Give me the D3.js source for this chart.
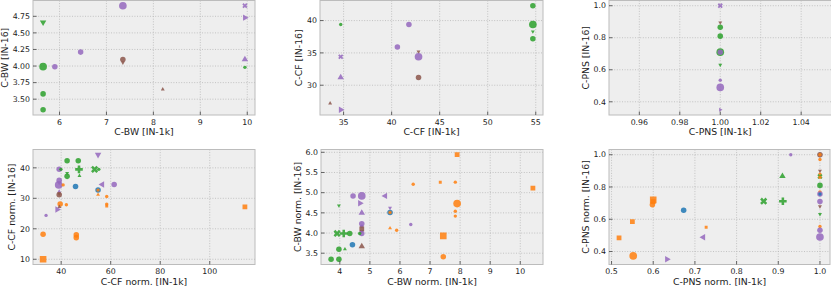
<!DOCTYPE html>
<html>
<head>
<meta charset="utf-8">
<script src="https://cdn.jsdelivr.net/npm/d3@7"></script>
<style>
  body { margin: 0; background: #fff; }
  svg { display: block; font-family: "DejaVu Sans", sans-serif; }
</style>
</head>
<body>
<svg id="chart" width="831" height="288"></svg>
<script>
// each point: [x, y, series, marker, size class]
const cbwPoints = [
  [5.65, 3.99, "C2", "o", 3], [5.65, 3.58, "C2", "o", 2], [5.65, 3.34, "C2", "o", 2],
  [5.65, 4.66, "C2", "v", 2], [5.90, 3.99, "C4", "o", 2], [6.45, 4.21, "C4", "o", 2],
  [7.35, 4.91, "C4", "o", 3], [7.35, 4.10, "C5", "o", 2], [7.35, 4.05, "C5", "v", 1],
  [8.20, 3.65, "C5", "^", 1], [9.95, 4.91, "C4", "X", 2], [9.95, 4.73, "C4", ">", 2],
  [9.95, 4.10, "C4", "^", 2], [9.95, 3.98, "C2", "o", 1]
];
const ccfPoints = [
  [34.7, 39.4, "C2", "o", 1], [34.7, 34.4, "C4", "X", 2], [34.7, 31.2, "C4", "^", 2],
  [34.7, 26.2, "C4", ">", 2], [33.6, 27.2, "C5", "^", 1], [40.6, 35.9, "C4", "o", 2],
  [41.8, 39.4, "C4", "o", 2], [42.8, 35.2, "C5", "v", 1], [42.8, 34.4, "C4", "o", 3],
  [42.8, 31.2, "C5", "o", 2], [54.7, 42.3, "C2", "o", 2], [54.7, 39.4, "C2", "o", 3],
  [54.7, 38.3, "C2", "v", 1], [54.7, 37.2, "C2", "o", 2]
];
const cpnsPoints = [
  [1, 1.0, "C4", "X", 2], [1, 0.895, "C5", "v", 1], [1, 0.865, "C2", "o", 2],
  [1, 0.81, "C2", "o", 2], [1, 0.71, "C2", "o", 3], [1, 0.71, "C4", "o", 2],
  [1, 0.63, "C2", "v", 1], [1, 0.535, "C4", "o", 1], [1, 0.49, "C4", "o", 3],
  [1, 0.35, "C4", ">", 1]
];
const ccfNormPoints = [
  [54.9, 44.3, "C4", "v", 2], [42.4, 42.3, "C2", "o", 2], [46.9, 42.3, "C2", "o", 2],
  [39.2, 39.5, "C4", "o", 2], [39.9, 39.5, "C2", "o", 1], [47.2, 39.5, "C2", "P", 3],
  [53.5, 39.5, "C2", "X", 3], [55.2, 39.5, "C2", "o", 1], [42.4, 38.3, "C2", "v", 1],
  [42.4, 37.2, "C2", "o", 2], [47.4, 37.4, "C2", "^", 1], [39.2, 35.9, "C4", "o", 2],
  [39.2, 35.0, "C4", "v", 1], [39.0, 34.4, "C4", "o", 3], [40.8, 34.4, "C1", "o", 1],
  [45.8, 33.9, "C0", "o", 2], [56.6, 34.5, "C4", "<", 2], [61.4, 34.5, "C4", "o", 2],
  [54.9, 32.7, "C0", "o", 2], [54.9, 32.7, "C1", "o", 1], [39.2, 32.2, "C4", "^", 1],
  [39.2, 31.5, "C5", "v", 1], [39.2, 31.2, "C5", "o", 2], [54.9, 31.2, "C1", "^", 1],
  [58.4, 30.6, "C1", "o", 1], [39.6, 28.1, "C1", "o", 2], [42.1, 27.9, "C1", "o", 1],
  [58.4, 28.1, "C1", "o", 1], [58.4, 27.5, "C1", "s", 1], [39.3, 27.2, "C5", "^", 1],
  [38.4, 26.3, "C4", ">", 2], [33.9, 24.4, "C4", "o", 1], [32.7, 18.2, "C1", "o", 2],
  [46.1, 18.0, "C1", "o", 2], [46.1, 17.1, "C1", "o", 2], [32.7, 10.0, "C1", "s", 3],
  [114.2, 27.2, "C1", "s", 2]
];
const cbwNormPoints = [
  [7.90, 5.94, "C1", "s", 2], [6.44, 5.21, "C1", "o", 1], [7.34, 5.26, "C1", "s", 1],
  [7.84, 5.26, "C1", "o", 1], [10.42, 5.11, "C1", "s", 2], [4.44, 4.92, "C4", "o", 2],
  [4.73, 4.92, "C4", "o", 3], [5.51, 4.92, "C4", "<", 2], [3.97, 4.68, "C2", "v", 1],
  [4.67, 4.74, "C4", ">", 2], [7.90, 4.73, "C1", "o", 3], [5.67, 4.62, "C4", "v", 1],
  [5.67, 4.51, "C0", "o", 2], [5.67, 4.51, "C1", "o", 1], [4.73, 4.50, "C4", "^", 2],
  [7.84, 4.54, "C1", "o", 1], [7.84, 4.42, "C1", "o", 1], [4.73, 4.23, "C4", "o", 2],
  [4.73, 4.17, "C4", "o", 1], [6.36, 4.21, "C4", "o", 1], [4.73, 4.10, "C5", "s", 2],
  [4.73, 4.04, "C5", "v", 1], [4.73, 3.99, "C4", "o", 2], [5.67, 4.12, "C1", "^", 1],
  [5.89, 4.07, "C1", "o", 1], [3.91, 3.99, "C2", "X", 3], [4.13, 3.99, "C2", "P", 3],
  [4.33, 3.99, "C2", "o", 2], [4.66, 3.99, "C2", "o", 1], [7.44, 3.93, "C1", "s", 3],
  [4.42, 3.71, "C0", "o", 2], [4.73, 3.67, "C5", "^", 2], [3.97, 3.60, "C2", "o", 2],
  [4.17, 3.60, "C2", "^", 1], [7.44, 3.41, "C1", "o", 2], [3.71, 3.35, "C2", "o", 2],
  [3.97, 3.35, "C2", "o", 2]
];
const cpnsNormPoints = [
  [0.93, 1.0, "C4", "o", 1], [1.0, 1.0, "C5", "o", 2], [1.0, 1.0, "C1", "o", 1],
  [1.0, 0.97, "C1", "o", 1], [1.0, 0.90, "C5", "v", 1], [1.0, 0.88, "C1", "o", 1],
  [1.0, 0.865, "C2", "X", 2], [1.0, 0.86, "C1", "o", 1], [1.0, 0.81, "C2", "o", 2],
  [1.0, 0.77, "C1", "o", 1], [1.0, 0.756, "C4", "o", 2], [1.0, 0.756, "C0", "o", 1],
  [1.0, 0.71, "C4", "o", 2], [1.0, 0.68, "C5", "v", 1], [1.0, 0.632, "C2", "v", 1],
  [1.0, 0.555, "C1", "o", 1], [1.0, 0.532, "C4", "o", 2], [1.0, 0.49, "C4", "o", 3],
  [0.91, 0.867, "C2", "^", 2], [0.60, 0.72, "C1", "s", 3], [0.60, 0.71, "C1", "s", 2],
  [0.598, 0.69, "C1", "o", 2], [0.865, 0.712, "C2", "X", 3], [0.911, 0.712, "C2", "P", 3],
  [0.673, 0.656, "C0", "o", 2], [0.55, 0.586, "C1", "s", 2], [0.727, 0.55, "C1", "s", 1],
  [0.72, 0.489, "C4", "<", 2], [0.518, 0.484, "C1", "s", 2], [0.552, 0.373, "C1", "o", 3],
  [0.633, 0.352, "C4", ">", 2]
];

// tick values
const cbwXTicks = [6, 7, 8, 9, 10];
const cbwYTicks = [3.5, 3.75, 4.0, 4.25, 4.5, 4.75];
const ccfXTicks = [35, 40, 45, 50, 55];
const ccfYTicks = [30, 35, 40];
const cpnsXTicks = [0.96, 0.98, 1.0, 1.02, 1.04];
const cpnsYTicks = [0.4, 0.6, 0.8, 1.0];
const ccfNormXTicks = [40, 60, 80, 100];
const ccfNormYTicks = [10, 20, 30, 40];
const cbwNormXTicks = [4, 5, 6, 7, 8, 9, 10];
const cbwNormYTicks = [3.5, 4.0, 4.5, 5.0, 5.5, 6.0];
const pnsNormTicks = [0.5, 0.6, 0.7, 0.8, 0.9, 1.0];

const color = d3.scaleOrdinal()
  .domain(["C0", "C1", "C2", "C4", "C5"])
  .range(["#1f77b4", "#ff7f0e", "#2ca02c", "#9467bd", "#8c564b"]);
const area = d3.scaleOrdinal().domain([1, 2, 3]).range([9, 24, 46]);

// marker -> [symbol type, rotation, area factor]
const markers = {
  "o": [d3.symbolCircle, 0, 1], "s": [d3.symbolSquare, 0, 0.95],
  "^": [d3.symbolTriangle, 0, 0.75], "v": [d3.symbolTriangle, 180, 0.75],
  ">": [d3.symbolTriangle, 90, 0.75], "<": [d3.symbolTriangle, -90, 0.75],
  "P": [d3.symbolCross, 0, 0.7], "X": [d3.symbolCross, 45, 0.7]
};

const panels = [
  { pts: cbwPoints, xl: "C-BW [IN-1k]", yl: "C-BW [IN-16]", xt: cbwXTicks, yt: cbwYTicks, xf: "d", yf: ".2f", box: [33, 255, 0.5, 115] },
  { pts: ccfPoints, xl: "C-CF [IN-1k]", yl: "C-CF [IN-16]", xt: ccfXTicks, yt: ccfYTicks, xf: "d", yf: "d", box: [320, 543, 0.5, 115] },
  { pts: cpnsPoints, xl: "C-PNS [IN-1k]", yl: "C-PNS [IN-16]", xt: cpnsXTicks, yt: cpnsYTicks, xf: ".2f", yf: ".1f", box: [609, 831.5, 0.5, 115] },
  { pts: ccfNormPoints, xl: "C-CF norm. [IN-1k]", yl: "C-CF norm. [IN-16]", xt: ccfNormXTicks, yt: ccfNormYTicks, xf: "d", yf: "d", box: [33, 255, 149.5, 264.5] },
  { pts: cbwNormPoints, xl: "C-BW norm. [IN-1k]", yl: "C-BW norm. [IN-16]", xt: cbwNormXTicks, yt: cbwNormYTicks, xf: "d", yf: ".1f", box: [321, 543, 149.5, 264.5] },
  { pts: cpnsNormPoints, xl: "C-PNS norm. [IN-1k]", yl: "C-PNS norm. [IN-16]", xt: pnsNormTicks, yt: cpnsYTicks, xf: ".1f", yf: ".1f", box: [609, 830, 149.5, 264.5] }
];

// matplotlib-like autoscale with 5% margins
function padded(vals) {
  let [a, b] = d3.extent(vals);
  if (a === b) { a -= Math.abs(a) * 0.05; b += Math.abs(b) * 0.05; }
  const m = (b - a) * 0.05;
  return [a - m, b + m];
}

const svg = d3.select("#chart");

panels.forEach((p, i) => {
  const [x0, x1, y0, y1] = p.box;
  const x = d3.scaleLinear().domain(padded(p.pts.map(d => d[0]))).range([x0, x1]);
  const y = d3.scaleLinear().domain(padded(p.pts.map(d => d[1]))).range([y1, y0]);
  const g = svg.append("g");

  g.append("clipPath").attr("id", "clip" + i)
    .append("rect").attr("x", x0).attr("y", y0).attr("width", x1 - x0).attr("height", y1 - y0);

  g.append("rect")
    .attr("x", x0).attr("y", y0).attr("width", x1 - x0).attr("height", y1 - y0)
    .attr("fill", "#eeeeee");

  // grid
  g.selectAll(".gx").data(p.xt).join("line")
    .attr("x1", d => x(d)).attr("x2", d => x(d)).attr("y1", y0).attr("y2", y1)
    .attr("stroke", "#b8b8b8").attr("stroke-width", 0.8).attr("stroke-dasharray", "1,1.6");
  g.selectAll(".gy").data(p.yt).join("line")
    .attr("y1", d => y(d)).attr("y2", d => y(d)).attr("x1", x0).attr("x2", x1)
    .attr("stroke", "#b8b8b8").attr("stroke-width", 0.8).attr("stroke-dasharray", "1,1.6");

  // points
  g.append("g").attr("clip-path", `url(#clip${i})`)
    .selectAll("path").data(p.pts).join("path")
    .attr("d", d => d3.symbol().type(markers[d[3]][0]).size(area(d[4]) * markers[d[3]][2])())
    .attr("transform", d => `translate(${x(d[0])},${y(d[1])}) rotate(${markers[d[3]][1]})`)
    .attr("fill", d => color(d[2]))
    .attr("fill-opacity", 0.85);

  // frame
  g.append("rect")
    .attr("x", x0).attr("y", y0).attr("width", x1 - x0).attr("height", y1 - y0)
    .attr("fill", "none").attr("stroke", "#bcbcbc").attr("stroke-width", 1);

  // ticks (inward)
  g.selectAll(".tx").data(p.xt).join("line")
    .attr("x1", d => x(d)).attr("x2", d => x(d)).attr("y1", y1).attr("y2", y1 - 3.5)
    .attr("stroke", "#444").attr("stroke-width", 0.8);
  g.selectAll(".ty").data(p.yt).join("line")
    .attr("y1", d => y(d)).attr("y2", d => y(d)).attr("x1", x0).attr("x2", x0 + 3.5)
    .attr("stroke", "#444").attr("stroke-width", 0.8);

  const fx = d3.format(p.xf), fy = d3.format(p.yf);
  g.selectAll(".lx").data(p.xt).join("text")
    .attr("x", d => x(d)).attr("y", y1 + 9.5)
    .attr("text-anchor", "middle").attr("font-size", 7.8).attr("fill", "#222")
    .text(d => fx(d));
  const ly = g.selectAll(".ly").data(p.yt).join("text")
    .attr("x", x0 - 3).attr("y", d => y(d)).attr("dy", "0.35em")
    .attr("text-anchor", "end").attr("font-size", 7.8).attr("fill", "#222")
    .text(d => fy(d));

  let maxW = 0;
  ly.each(function () { maxW = Math.max(maxW, this.getComputedTextLength()); });

  g.append("text")
    .attr("x", (x0 + x1) / 2).attr("y", y1 + 20)
    .attr("text-anchor", "middle").attr("font-size", 9.3).attr("fill", "#222")
    .text(p.xl);
  g.append("text")
    .attr("transform", `translate(${x0 - maxW - 8},${(y0 + y1) / 2}) rotate(-90)`)
    .attr("text-anchor", "middle").attr("font-size", 9.3).attr("fill", "#222")
    .text(p.yl);
});
</script>
</body>
</html>
